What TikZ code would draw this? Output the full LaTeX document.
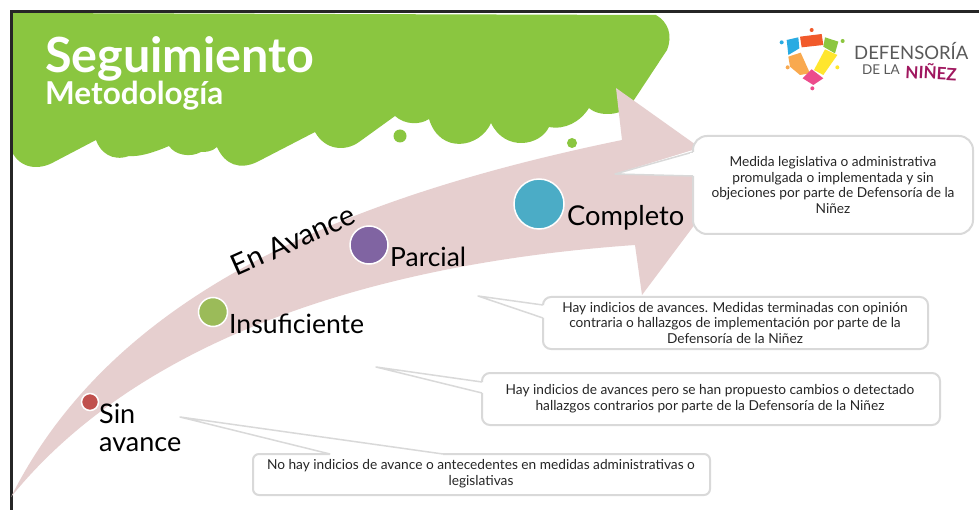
\documentclass[tikz,border=0pt]{standalone}
\usepackage{fontspec}
\setmainfont{Lato}
\definecolor{gr}{HTML}{8AC640}
\definecolor{pk}{HTML}{E6CFCF}
\definecolor{ln}{HTML}{D9D9D9}
\tikzset{
 dotc/.style={circle,draw=white,line width=1.5pt,inner sep=0pt},
 lab/.style={anchor=base west,inner sep=0pt,text=black},
 callt/.style={align=center,inner sep=0pt,text=black!85,font=\fontsize{13.7}{15.8}\selectfont},
 cbox/.style={fill=white,draw=ln,line width=2pt,line join=round},
 logoc/.style={inner sep=0pt}
}
\begin{document}
\begin{tikzpicture}[x=1pt,y=-1pt]
\useasboundingbox (0,0) rectangle (979,510);
\fill[white] (0,0) rectangle (979,510);
% green cloud
\fill[gr] (11,13) -- (656,15)
 .. controls (668,22) and (673,35) .. (667,50)
 -- (632,103)
 .. controls (625,115) and (600,118) .. (589,108)
 .. controls (580,122) and (565,130) .. (549,127)
 .. controls (540,146) and (505,152) .. (491,123)
 .. controls (480,148) and (440,155) .. (429,119)
 .. controls (420,125) and (405,125) .. (395,116)
 -- (359,142)
 .. controls (345,152) and (325,150) .. (315,132)
 -- (257,162)
 .. controls (240,170) and (225,165) .. (217,147)
 .. controls (212,152) and (205,152) .. (201,152)
 .. controls (190,158) and (175,155) .. (169,146)
 .. controls (155,152) and (140,157) .. (129,156)
 .. controls (112,162) and (100,152) .. (96,140)
 -- (54,162)
 .. controls (40,170) and (20,170) .. (11,150) -- cycle;
\node[fill=gr,circle,minimum size=13pt,inner sep=0pt] (d1) at (400,136) {};
\node[fill=gr,circle,minimum size=10pt,inner sep=0pt] (d2) at (572,143) {};
% frame
\draw[line width=3pt,color=black!85] (979,12) -- (11,12) -- (11,510);
% arrow
\fill[pk] (11,497)
 .. controls (110,300) and (330,200) .. (622,140)
 -- (616,88) -- (734,172) -- (642,295) -- (635,245)
 .. controls (350,265) and (130,350) .. (11,497) -- cycle;
% callouts
\fill[white] (693,150) -- (615,174) -- (693,176) -- cycle;
\draw[ln,line width=1.5pt,line join=round] (693,152) -- (615,174) -- (693,176);
\draw[cbox,rounded corners=14pt] (693,176) -- (693,234) -- (973,234) -- (973,136) -- (693,136) -- (693,152);
\fill[white] (690,153.5) rectangle (696,174.5);
\draw[cbox,rounded corners=8pt] (543,318) -- (543,349) -- (928,349) -- (928,297) -- (543,297) -- (543,305);
\draw[ln,line width=1.5pt,line join=round] (543,305) -- (478,296) -- (543,318);
\draw[cbox,rounded corners=8pt] (482,393) -- (482,425) -- (940,425) -- (940,373) -- (482,373) -- (482,382);
\draw[ln,line width=1.5pt,line join=round] (482,382) -- (376,367) -- (482,393);
\draw[cbox,rounded corners=6pt] (330,454) -- (253,454) -- (253,495) -- (710,495) -- (710,454) -- (443,454);
\draw[ln,line width=1.5pt,line join=round] (330,454) -- (180,417) -- (443,454);
\node[callt] (t1) at (833,185) {Medida legislativa o administrativa\\promulgada o implementada y sin\\objeciones por parte de Defensoría de la\\Niñez};
\node[callt] (t2) at (735,323) {Hay indicios de avances. Medidas terminadas con opinión\\contraria o hallazgos de implementación por parte de la\\Defensoría de la Niñez};
\node[callt] (t3) at (710,399) {Hay indicios de avances pero se han propuesto cambios o detectado\\hallazgos contrarios por parte de la Defensoría de la Niñez};
\node[callt] (t4) at (481,474) {No hay indicios de avance o antecedentes en medidas administrativas o\\legislativas};
% dots
\node[dotc,fill={rgb,255:red,192;green,80;blue,77},minimum size=17pt] (c1) at (90,402) {};
\node[dotc,fill={rgb,255:red,155;green,187;blue,89},minimum size=29pt] (c2) at (213,312) {};
\node[dotc,fill={rgb,255:red,128;green,100;blue,162},minimum size=38pt] (c3) at (369,245) {};
\node[dotc,fill={rgb,255:red,75;green,172;blue,198},minimum size=50pt] (c4) at (539,204) {};
\node[lab,font=\fontsize{27}{28}\selectfont,align=left,anchor=north west] (l1) at (99,404) {Sin\\avance};
\node[lab,font=\fontsize{26.6}{30}\selectfont] (l2) at (229,334) {Insuficiente};
\node[lab,font=\fontsize{26.4}{30}\selectfont] (l3) at (390,267) {Parcial};
\node[lab,font=\fontsize{27.3}{30}\selectfont] (l4) at (567,226) {Completo};
\node[inner sep=0pt,rotate=24,font=\fontsize{29}{30}\selectfont,text=black] (ea) at (293,240) {En Avance};
% title
\node[lab,text=white,font=\bfseries\fontsize{48.5}{50}\selectfont] (ti) at (45,73) {Seguimiento};
\node[lab,text=white,font=\bfseries\fontsize{31.5}{32}\selectfont] (su) at (45,105) {Metodología};
% logo
\begin{scope}[shift={(760,10)},x=0.3333pt,y=-0.3333pt]
\fill[fill={rgb,255:red,241;green,90;blue,43}] (120,80)--(185,72)--(190,105)--(125,112)--cycle;
\fill[fill={rgb,255:red,140;green,198;blue,63}] (195,82)--(235,95)--(225,130)--(190,110)--cycle;
\fill[fill={rgb,255:red,41;green,171;blue,226}] (80,90)--(115,82)--(118,115)--(85,135)--cycle;
\fill[fill={rgb,255:red,249;green,169;blue,79}] (85,140)--(122,128)--(150,190)--(120,195)--(90,170)--cycle;
\fill[fill={rgb,255:red,255;green,230;blue,46}] (195,118)--(232,135)--(190,195)--(162,180)--cycle;
\fill[fill={rgb,255:red,236;green,76;blue,140}] (155,178)--(190,205)--(160,225)--(128,205)--cycle;
\fill[fill={rgb,255:red,241;green,90;blue,43}] (155,60) circle (2pt);
\fill[fill={rgb,255:red,41;green,171;blue,226}] (65,97) circle (2pt);
\fill[fill={rgb,255:red,140;green,198;blue,63}] (248,93) circle (2pt);
\fill[fill={rgb,255:red,249;green,169;blue,79}] (83,172) circle (2pt);
\fill[fill={rgb,255:red,255;green,230;blue,46}] (232,172) circle (2pt);
\fill[fill={rgb,255:red,236;green,76;blue,140}] (157,235) circle (2pt);
\end{scope}
\node[lab,logoc,text=black!65,font=\fontsize{18.5}{20}\selectfont] (lg1) at (854,60) {DEFENSORÍA};
\node[lab,logoc,text=black!65,font=\fontsize{13.5}{15}\selectfont] (lg2) at (862,75) {DE LA};
\node[lab,logoc,text={rgb,255:red,160;green,23;blue,95},rotate=-3,font=\bfseries\fontsize{17}{20}\selectfont] (lg3) at (905,78) {NIÑEZ};
\end{tikzpicture}
\end{document}
